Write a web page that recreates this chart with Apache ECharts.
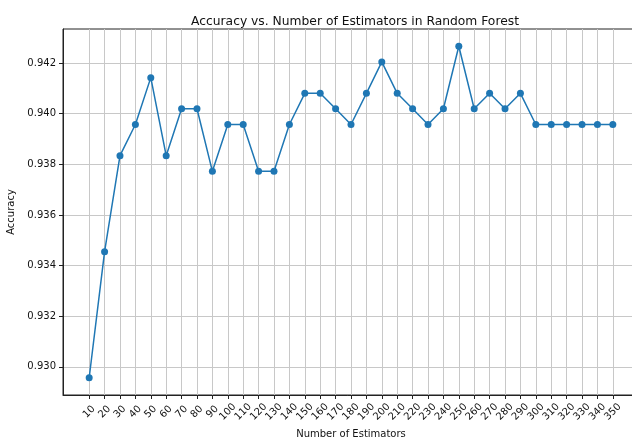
<!DOCTYPE html>
<html>
<head>
<meta charset="utf-8">
<script src="https://cdn.jsdelivr.net/npm/echarts@6/dist/echarts.min.js"></script>
<style>
  html, body { margin: 0; padding: 0; background: #fff; }
  #main { width: 632px; height: 439px; }
</style>
</head>
<body>
<div id="main"></div>
<script>
// number of trees tried
var estimators = [10, 20, 30, 40, 50, 60, 70, 80, 90, 100, 110, 120, 130, 140, 150, 160, 170, 180,
    190, 200, 210, 220, 230, 240, 250, 260, 270, 280, 290, 300, 310, 320, 330, 340, 350];
// accuracy
var accuracy = [0.92957, 0.93455, 0.93834, 0.93957, 0.94142, 0.93834, 0.94019, 0.94019, 0.93772,
    0.93957, 0.93957, 0.93772, 0.93772, 0.93957, 0.94080, 0.94080, 0.94019, 0.93957, 0.94080,
    0.94204, 0.94080, 0.94019, 0.93957, 0.94019, 0.94266, 0.94019, 0.94080, 0.94019, 0.94080,
    0.93957, 0.93957, 0.93957, 0.93957, 0.93957, 0.93957];
var yTicks = [0.930, 0.932, 0.934, 0.936, 0.938, 0.940, 0.942];

var points = estimators.map(function (n, i) { return [n, accuracy[i]]; });
var font = 'DejaVu Sans';

var myChart = echarts.init(document.getElementById('main'));
myChart.setOption({
    animation: false,
    title: {
        text: 'Accuracy vs. Number of Estimators in Random Forest',
        left: 350, top: 11, textAlign: 'center',
        textStyle: { fontFamily: font, fontSize: 12.3, fontWeight: 'normal', color: '#111' }
    },
    grid: {
        left: 63, right: -7, top: 29, bottom: 44,
        outerBoundsMode: 'none', containLabel: false,
        show: true, borderColor: '#222', borderWidth: 1
    },
    xAxis: {
        type: 'value',
        min: -7, max: 367,
        name: 'Number of Estimators',
        nameLocation: 'middle', nameGap: 34,
        nameTextStyle: { fontFamily: font, fontSize: 10, color: '#111' },
        axisLine: { show: true, onZero: false, lineStyle: { color: '#222' } },
        axisTick: { show: true, length: 4, customValues: estimators, lineStyle: { color: '#222' } },
        axisLabel: {
            customValues: estimators, rotate: 45, margin: 17,
            align: 'center', verticalAlign: 'middle',
            fontFamily: font, fontSize: 10, color: '#111'
        },
        splitLine: { show: true, lineStyle: { color: '#c8c8c8', width: 1 } }
    },
    yAxis: {
        type: 'value',
        min: 0.92889, max: 0.94334,
        name: 'Accuracy',
        nameLocation: 'middle', nameGap: 40,
        nameTextStyle: { fontFamily: font, fontSize: 10, color: '#111' },
        axisLine: { show: true, onZero: false, lineStyle: { color: '#222' } },
        axisTick: { show: true, length: 4, customValues: yTicks, lineStyle: { color: '#222' } },
        axisLabel: {
            customValues: yTicks, margin: 7,
            fontFamily: font, fontSize: 10, color: '#111',
            formatter: function (v) { return v.toFixed(3); }
        },
        splitLine: { show: true, lineStyle: { color: '#c8c8c8', width: 1 } }
    },
    series: [{
        type: 'line',
        data: points,
        symbol: 'circle',
        symbolSize: 7,
        lineStyle: { color: '#1f77b4', width: 1.5 },
        itemStyle: { color: '#1f77b4' }
    }]
});
</script>
</body>
</html>
